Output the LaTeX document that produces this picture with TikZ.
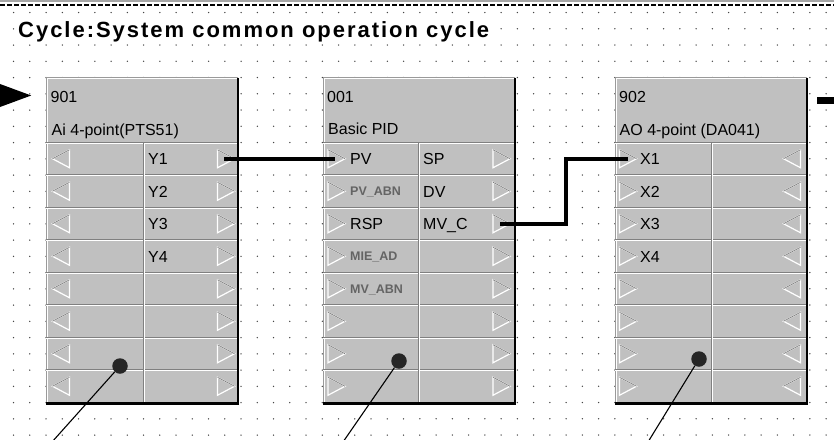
\documentclass[tikz,border=0pt]{standalone}
\usepackage{fontspec}
\setmainfont{Liberation Sans}
\newfontfamily\titlefont[LetterSpace=9.0]{Liberation Sans}
\usetikzlibrary{calc,positioning,arrows.meta}
\definecolor{fbgray}{RGB}{192,192,192}
\definecolor{fbshade}{RGB}{128,128,128}
\definecolor{fbdim}{RGB}{100,100,100}
\definecolor{griddot}{RGB}{70,70,70}

\begin{document}
\begin{tikzpicture}[x=1pt,y=-1pt,
  fblock/.style={fill=fbgray, minimum width=192pt, minimum height=326pt, anchor=north west, inner sep=0pt},
  lbl/.style={font=\fontsize{16}{18}\selectfont, anchor=base west, inner sep=0pt},
  dimlbl/.style={font=\bfseries\fontsize{12.5}{14}\selectfont, text=fbdim, anchor=base west, inner sep=0pt},
  wire/.style={line width=4.5pt, black},
  pointer/.style={line width=1.1pt, black},
  hotspot/.style={circle, fill=black!85, minimum size=15.5pt, inner sep=0pt},
  pin right/.pic={
    \draw[white, line width=1.2pt, line join=miter] (-8.5,-9) -- (8.5,0) -- (-8.5,9) -- cycle;
    \draw[fbshade, line width=.7pt] (-8.5,-9) -- (8.5,0);
  },
  pin left/.pic={
    \draw[white, line width=1.2pt, line join=miter] (8.5,-9) -- (-8.5,0) -- (8.5,9) -- cycle;
    \draw[fbshade, line width=.7pt] (8.5,-9) -- (-8.5,0);
  }]
\useasboundingbox (0,0) rectangle (834,439);
\clip (0,0) rectangle (834,439);

% grid of the drawing sheet
\foreach \i in {0,...,50} {
  \foreach \j in {0,...,26} {
    \fill[griddot] (13.5+16.25*\i,12.5+16.25*\j) circle (.75);
  }
}
\fill[black!35] (0,0) rectangle (834,2);
\draw[dash pattern=on 5pt off 2pt, line width=1.6pt] (0,5) -- (834,5);

\node[anchor=base west, inner sep=1pt, fill=white, font=\titlefont\bfseries\fontsize{22}{24}\selectfont] (title) at (17,37) {Cycle:System common operation cycle};

% function blocks
\node[fblock] (blkA) at (46,77.5) {};
\node[fblock] (blkB) at (323,77.5) {};
\node[fblock] (blkC) at (615,77.5) {};

\foreach \b/\dx in {blkA/97,blkB/95,blkC/96} {
  \begin{scope}[shift={(\b.north west)}]
    \draw[fbshade!80, line width=1pt] (0,326) -- (0,0) -- (192,0);
    \draw[white, line width=1pt] (1.3,325) -- (1.3,1.3) -- (191,1.3);
    \draw[fbshade, line width=1pt] (0,64.5) -- (192,64.5);
    \draw[white, line width=1pt] (0,65.8) -- (192,65.8);
    \foreach \r in {1,...,7} {
      \draw[fbshade, line width=1pt] (0,64.5+32.5*\r) -- (192,64.5+32.5*\r);
      \draw[white, line width=1pt] (0,65.8+32.5*\r) -- (192,65.8+32.5*\r);
    }
    \draw[fbshade, line width=1pt] (\dx,65) -- (\dx,326);
    \draw[white, line width=1pt] (\dx+1.3,66) -- (\dx+1.3,326);
    \draw[black, line width=2.2pt] (192,0) -- (192,326) -- (0,326);
  \end{scope}
}

% 901 analog input
\begin{scope}[shift={(blkA.north west)}]
  \node[lbl] (numA) at (4.5,24.5) {901};
  \node[lbl] (typeA) at (5.5,57.5) {Ai 4-point(PTS51)};
  \foreach \r in {0,...,7} {
    \pic at (15,81.25+32.5*\r) {pin left};
    \pic at (180,81.25+32.5*\r) {pin right};
  }
  \foreach \t [count=\r from 0] in {Y1,Y2,Y3,Y4}
    \node[lbl] (outA\r) at (102,87.25+32.5*\r) {\t};
  \coordinate (y1out) at (178,81.25);
\end{scope}

% 001 PID
\begin{scope}[shift={(blkB.north west)}]
  \node[lbl] (numB) at (4,24.5) {001};
  \node[lbl] (typeB) at (5,57) {Basic PID};
  \foreach \r in {0,...,7} {
    \pic at (13.5,81.25+32.5*\r) {pin right};
    \pic at (178.5,81.25+32.5*\r) {pin right};
  }
  \foreach \t/\s/\dy [count=\r from 0] in {PV/lbl/6,PV\_ABN/dimlbl/4.6,RSP/lbl/6,MIE\_AD/dimlbl/4.6,MV\_ABN/dimlbl/4.6}
    \node[\s] (inB\r) at (27,81.25+32.5*\r+\dy) {\t};
  \foreach \t [count=\r from 0] in {SP,DV,MV\_C}
    \node[lbl] (outB\r) at (100,87.25+32.5*\r) {\t};
  \coordinate (pvin) at (12,81.25);
  \coordinate (mvcout) at (177,146.25);
\end{scope}

% 902 analog output
\begin{scope}[shift={(blkC.north west)}]
  \node[lbl] (numC) at (4,24.5) {902};
  \node[lbl] (typeC) at (4.5,57.5) {AO 4-point (DA041)};
  \foreach \r in {0,...,7} {
    \pic at (13,81.25+32.5*\r) {pin right};
    \pic at (177,81.25+32.5*\r) {pin left};
  }
  \foreach \t [count=\r from 0] in {X1,X2,X3,X4}
    \node[lbl] (inC\r) at (25,87.25+32.5*\r) {\t};
  \coordinate (x1in) at (13,81.25);
\end{scope}

% wiring
\coordinate (feedA) at (-40,95.5);
\coordinate (inA) at (31.5,95.5);
\draw[wire, -{Triangle[length=40pt,width=28pt]}] (feedA) -- (inA);
\draw[wire] (y1out) -- (pvin);
\draw[wire] (mvcout) -- ++(66,0) |- (x1in);
\coordinate (outC) at (817,100.5);
\coordinate (feedC) at (845,100.5);
\draw[line width=7pt] (outC) -- (feedC);

% call-outs
\node[hotspot] (dotA) at (120,366) {};
\node[hotspot] (dotB) at (399,361) {};
\node[hotspot] (dotC) at (699,359) {};
\coordinate (tipA) at (52,442);
\coordinate (tipB) at (343,442);
\coordinate (tipC) at (648,442);
\draw[pointer] (dotA) -- (tipA);
\draw[pointer] (dotB) -- (tipB);
\draw[pointer] (dotC) -- (tipC);
\end{tikzpicture}
\end{document}
